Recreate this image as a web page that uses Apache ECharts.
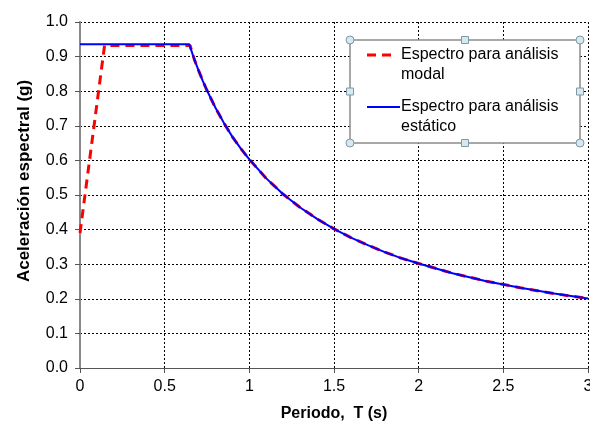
<!DOCTYPE html>
<html>
<head>
<meta charset="utf-8">
<script src="https://cdn.jsdelivr.net/npm/echarts@6/dist/echarts.min.js"></script>
<style>
  html, body { margin: 0; padding: 0; background: #fff; }
  #chart { width: 590px; height: 427px; }
</style>
</head>
<body>
<div id="chart"></div>
<script>
// datos
var periodoModal = [0, 0.145, 0.65, 0.675, 0.7, 0.725, 0.75, 0.8, 0.85, 0.9, 0.95, 1.0, 1.1, 1.2, 1.3, 1.4, 1.5, 1.6, 1.7, 1.8, 1.9, 2.0, 2.2, 2.4, 2.6, 2.8, 3.0];
var saModal = [0.39, 0.932, 0.932, 0.892, 0.860, 0.830, 0.802, 0.752, 0.708, 0.668, 0.634, 0.603, 0.548, 0.502, 0.464, 0.431, 0.402, 0.377, 0.355, 0.335, 0.317, 0.302, 0.274, 0.251, 0.232, 0.215, 0.201];

var periodoEstatico = [0, 0.645, 0.675, 0.7, 0.725, 0.75, 0.8, 0.85, 0.9, 0.95, 1.0, 1.1, 1.2, 1.3, 1.4, 1.5, 1.6, 1.7, 1.8, 1.9, 2.0, 2.2, 2.4, 2.6, 2.8, 3.0];
var saEstatico = [0.936, 0.936, 0.892, 0.860, 0.830, 0.802, 0.752, 0.708, 0.668, 0.634, 0.603, 0.548, 0.502, 0.464, 0.431, 0.402, 0.377, 0.355, 0.335, 0.317, 0.302, 0.274, 0.251, 0.232, 0.215, 0.201];

var nombres = ['Espectro para análisis\nmodal', 'Espectro para análisis\nestático'];
var colores = ['#ff0000', '#0000ff'];

function pares(xs, ys) {
  return xs.map(function (x, i) { return [x, ys[i]]; });
}

var fuente = '"Liberation Sans", Arial, sans-serif';

var myChart = echarts.init(document.getElementById('chart'));

// manijas del cuadro de leyenda
var bx = 350, by = 40, bw = 230, bh = 103;
var manijas = [];
[[bx, by], [bx + bw, by], [bx, by + bh], [bx + bw, by + bh]].forEach(function (p) {
  manijas.push({ type: 'circle', shape: { cx: p[0], cy: p[1], r: 4 }, style: { fill: '#d7e9f0', stroke: '#7f9aa5', lineWidth: 1 }, z: 101 });
});
[[bx + bw / 2, by], [bx + bw / 2, by + bh], [bx, by + bh / 2], [bx + bw, by + bh / 2]].forEach(function (p) {
  manijas.push({ type: 'rect', shape: { x: p[0] - 3.5, y: p[1] - 3.5, width: 7, height: 7 }, style: { fill: '#d7e9f0', stroke: '#7f9aa5', lineWidth: 1 }, z: 101 });
});

var option = {
  animation: false,
  backgroundColor: '#fff',
  grid: { left: 80, right: 2, top: 22, bottom: 59, outerBoundsMode: 'none' },
  xAxis: {
    type: 'value',
    min: 0, max: 3, interval: 0.5,
    name: 'Periodo,  T (s)',
    nameLocation: 'middle',
    nameGap: 38,
    nameTextStyle: { fontFamily: fuente, fontSize: 16, fontWeight: 'bold', color: '#000' },
    axisLine: { onZero: false, lineStyle: { color: '#555', width: 1 } },
    axisTick: { show: true, length: 5, lineStyle: { color: '#555' } },
    axisLabel: { fontFamily: fuente, fontSize: 16, color: '#000', margin: 11 },
    splitLine: { show: true, lineStyle: { color: '#000', type: [2, 2], width: 1 } }
  },
  yAxis: {
    type: 'value',
    min: 0, max: 1, interval: 0.1,
    name: 'Aceleración espectral (g)',
    nameLocation: 'middle',
    nameGap: 47,
    nameTextStyle: { fontFamily: fuente, fontSize: 17, fontWeight: 'bold', color: '#000',
      padding: [0, 0, 0, 28] },
    axisLine: { show: true, lineStyle: { color: '#888', width: 2 } },
    axisTick: { show: true, length: 5, lineStyle: { color: '#555' } },
    axisLabel: { fontFamily: fuente, fontSize: 16, color: '#000', margin: 12,
      formatter: function (v) { return v.toFixed(1); } },
    splitLine: { show: true, lineStyle: { color: '#000', type: [2, 2], width: 1 } }
  },
  series: [{
    name: nombres[0],
    type: 'line',
    data: pares(periodoModal, saModal),
    showSymbol: false,
    lineStyle: { color: colores[0], width: 3, type: [9, 6] },
    z: 2
  }, {
    name: nombres[1],
    type: 'line',
    data: pares(periodoEstatico, saEstatico),
    showSymbol: false,
    lineStyle: { color: colores[1], width: 2 },
    z: 3
  }],
  graphic: [{
    type: 'rect',
    shape: { x: bx, y: by, width: bw, height: bh },
    style: { fill: '#fff', stroke: '#8c8c8c', lineWidth: 1.5 },
    z: 100
  }, {
    type: 'line',
    shape: { x1: 367, y1: 55, x2: 393, y2: 55 },
    style: { stroke: colores[0], lineWidth: 3, lineDash: [9, 6] },
    z: 101
  }, {
    type: 'text',
    x: 401, y: 45,
    style: { text: nombres[0], fontFamily: fuente, fontSize: 16, lineHeight: 20, fill: '#000' },
    z: 101
  }, {
    type: 'line',
    shape: { x1: 367, y1: 107, x2: 400, y2: 107 },
    style: { stroke: colores[1], lineWidth: 2 },
    z: 101
  }, {
    type: 'text',
    x: 401, y: 97,
    style: { text: nombres[1], fontFamily: fuente, fontSize: 16, lineHeight: 20, fill: '#000' },
    z: 101
  }].concat(manijas)
};

myChart.setOption(option);
</script>
</body>
</html>
